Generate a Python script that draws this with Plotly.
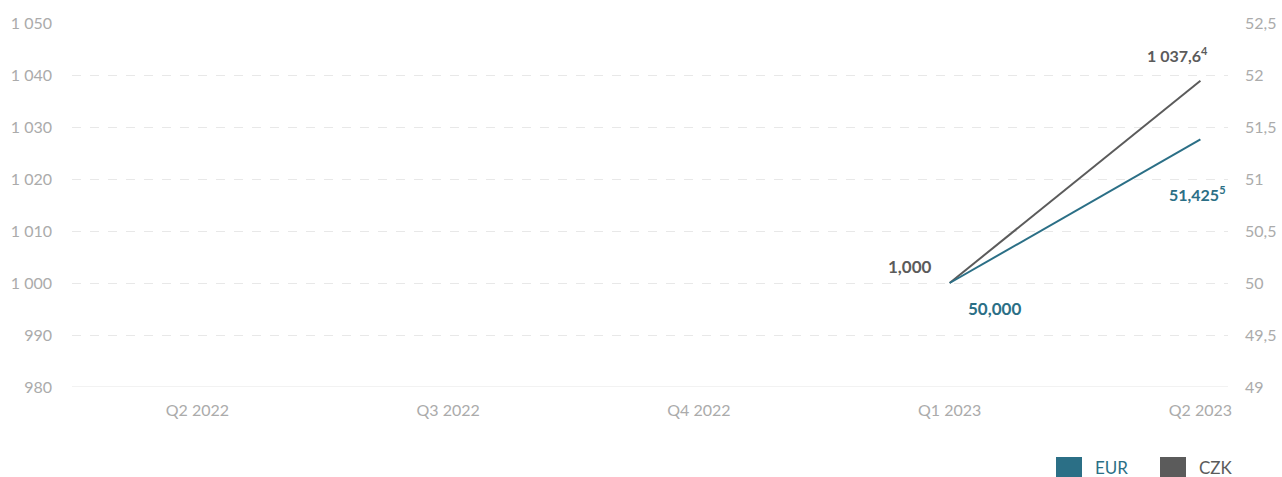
import plotly.graph_objects as go

categories = ["Q2 2022", "Q3 2022", "Q4 2022", "Q1 2023", "Q2 2023"]
czk_values = [None, None, None, 1000.0, 1038.9]
eur_values = [None, None, None, 50.0, 51.38]

left_ticks = [980, 990, 1000, 1010, 1020, 1030, 1040, 1050]
left_ticktext = ["980", "990", "1 000", "1 010", "1 020", "1 030", "1 040", "1 050"]
right_ticks = [49, 49.5, 50, 50.5, 51, 51.5, 52, 52.5]
right_ticktext = ["49", "49,5", "50", "50,5", "51", "51,5", "52", "52,5"]

EUR_COLOR = "#2b6f86"
CZK_COLOR = "#5b5b5b"
FONT = "Lato"
TICK_COLOR = "#ababab"

x_idx = list(range(len(categories)))

fig = go.Figure()
fig.add_trace(go.Scatter(x=x_idx, y=czk_values, mode="lines", name="CZK",
                         line=dict(color=CZK_COLOR, width=2), yaxis="y", showlegend=False))
fig.add_trace(go.Scatter(x=x_idx, y=eur_values, mode="lines", name="EUR",
                         line=dict(color=EUR_COLOR, width=2), yaxis="y2", showlegend=False))

ann = []
ann.append(dict(x=3.91, y=1043.9, xref="x", yref="y",
                text="<b>1 037,6<sup><span style='font-size:11px'>4</span></sup></b>",
                showarrow=False, font=dict(family=FONT, size=16, color=CZK_COLOR)))
ann.append(dict(x=3.99, y=50.865, xref="x", yref="y2",
                text="<b>51,425<sup><span style='font-size:11px'>5</span></sup></b>",
                showarrow=False, font=dict(family=FONT, size=16, color=EUR_COLOR)))
ann.append(dict(x=2.84, y=1003.2, xref="x", yref="y", text="<b>1,000</b>",
                showarrow=False, font=dict(family=FONT, size=17, color=CZK_COLOR)))
ann.append(dict(x=3.18, y=995.1, xref="x", yref="y", text="<b>50,000</b>",
                showarrow=False, font=dict(family=FONT, size=17, color=EUR_COLOR)))

W, H = 1282, 477
ml, mr, mt, mb = 72, 54, 23, 90
pw, ph = W - ml - mr, H - mt - mb


def px(xp):
    return (xp - ml) / pw


def py(yp):
    return (H - mb - yp) / ph


shapes = []
legend_items = [("EUR", EUR_COLOR, 1056), ("CZK", CZK_COLOR, 1160)]
for name, col, x0 in legend_items:
    shapes.append(dict(type="rect", xref="paper", yref="paper",
                       x0=px(x0), x1=px(x0 + 26), y0=py(478), y1=py(457),
                       fillcolor=col, line=dict(width=0)))
    ann.append(dict(x=px(x0 + 37), y=py(467), xref="paper", yref="paper", text=name,
                    xanchor="left", yanchor="middle", showarrow=False,
                    font=dict(family=FONT, size=17, color=col)))

shapes.append(dict(type="line", xref="paper", yref="y", x0=0, x1=1, y0=980, y1=980,
                   line=dict(color="#eeeeee", width=1.5), layer="below"))

fig.update_layout(
    width=W, height=H,
    margin=dict(l=ml, r=mr, t=mt, b=mb, pad=0),
    paper_bgcolor="white", plot_bgcolor="white",
    showlegend=False,
    font=dict(family=FONT, size=16, color=TICK_COLOR),
    xaxis=dict(range=[-0.5, 4.11], tickvals=x_idx, ticktext=categories, showgrid=False,
               zeroline=False, showline=False, ticks="", ticklabelstandoff=12,
               automargin=False, tickfont=dict(size=16, color=TICK_COLOR)),
    yaxis=dict(range=[980, 1050], tickvals=left_ticks, ticktext=left_ticktext,
               showgrid=True, gridcolor="#e8e8e8", griddash="dash", gridwidth=1,
               zeroline=False, showline=False, ticks="", ticklabelstandoff=19,
               automargin=False, tickfont=dict(size=16, color=TICK_COLOR)),
    yaxis2=dict(range=[49, 52.5], tickvals=right_ticks, ticktext=right_ticktext,
                overlaying="y", side="right", showgrid=False, zeroline=False,
                showline=False, ticks="", ticklabelstandoff=16, automargin=False,
                tickfont=dict(size=16, color=TICK_COLOR)),
    shapes=shapes,
    annotations=ann,
)

fig.write_html(
    "out.html",
    config={"displayModeBar": False},
    post_script="document.body.style.margin='0';document.body.style.overflow='hidden';",
)
